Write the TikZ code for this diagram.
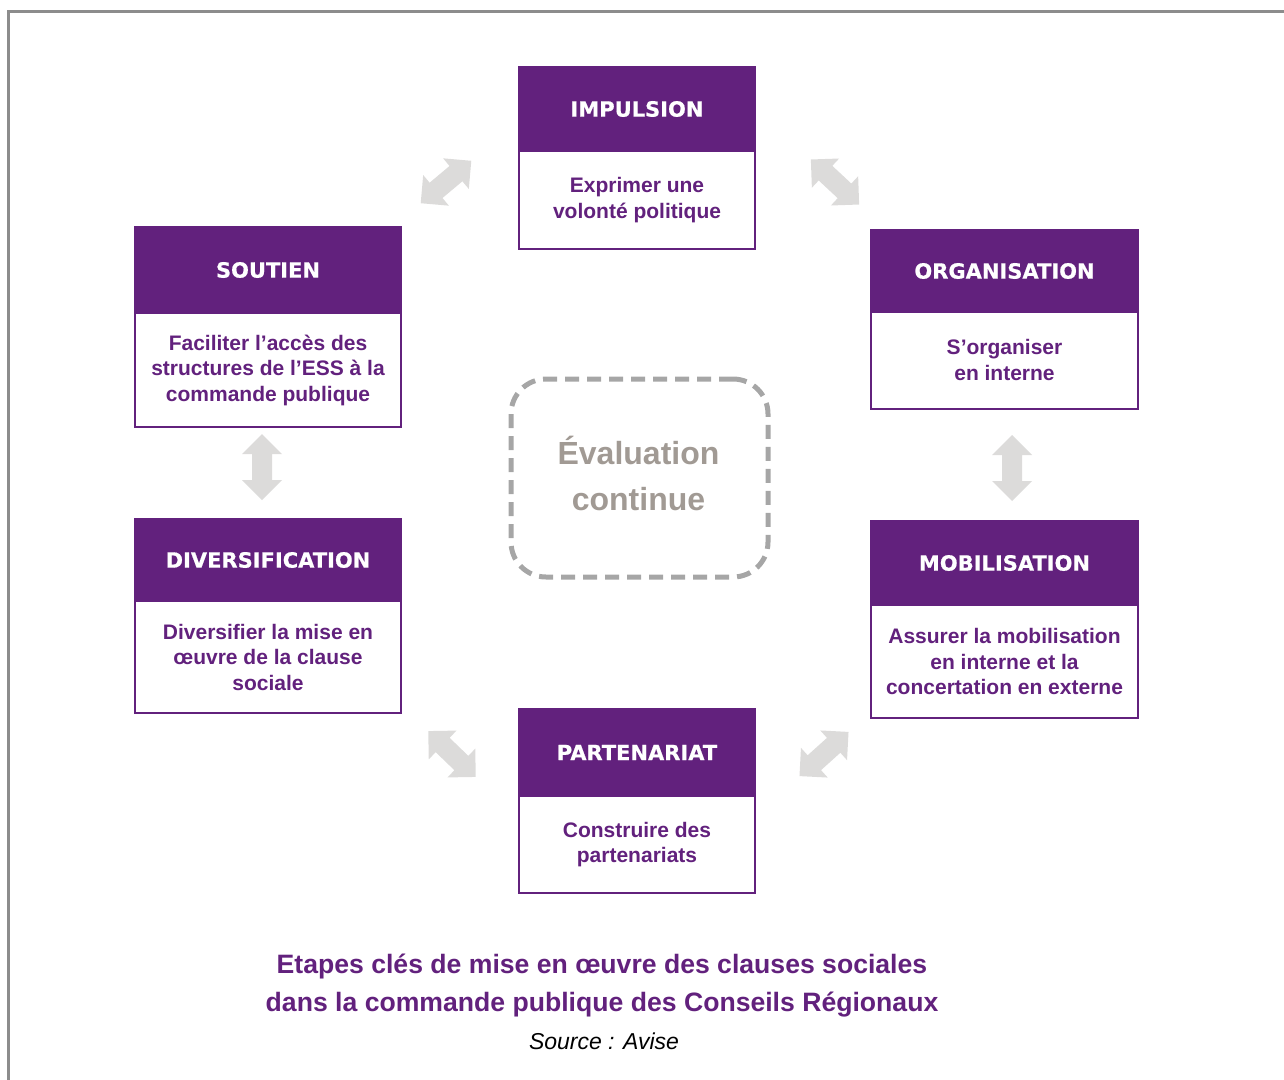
\documentclass[tikz,border=0pt]{standalone}
\usepackage{fontspec}
\setmainfont{Liberation Sans}
\newfontfamily\headfont{DejaVu Sans}[BoldFeatures={FakeBold=0.6}]
\definecolor{purp}{HTML}{62217D}
\definecolor{agrey}{HTML}{DCDBDA}
\definecolor{dgrey}{HTML}{A6A6A6}
\definecolor{egrey}{HTML}{A19A94}
\definecolor{fgrey}{HTML}{8C8C8C}
\tikzset{
  head/.style={fill=purp, draw=purp, line width=2.5pt, text=white, inner sep=0pt,
    font=\headfont\bfseries\fontsize{21}{25}\selectfont},
  body/.style={draw=purp, line width=2.5pt, fill=white, text=purp, align=center, inner sep=0pt,
    font=\bfseries\fontsize{21}{25.5}\selectfont},
  dblarrow/.pic={\fill[agrey] (-33,0) -- (-13,20) -- (-13,10) -- (13,10) -- (13,20) -- (33,0)
    -- (13,-20) -- (13,-10) -- (-13,-10) -- (-13,-20) -- cycle;}
}
\begin{document}
\begin{tikzpicture}[x=1pt,y=-1pt]
\useasboundingbox (0,0) rectangle (1284,1079);
% outer frame
\draw[fgrey, line width=3pt] (8,1080) -- (8,11) -- (1285,11);

% IMPULSION
\node[body, minimum width=236, minimum height=98] (b1) at (637,200) {\raisebox{-2pt}{}Exprimer une\\volonté politique};
\node[head, minimum width=236, minimum height=84] (h1) at (637,109) {IMPULSION};
% SOUTIEN
\node[body, minimum width=266, minimum height=114] (b2) at (268,370) {Faciliter l’accès des\\structures de l’ESS à la\\commande publique};
\node[head, minimum width=266, minimum height=86] (h2) at (268,270) {SOUTIEN};
% ORGANISATION
\node[body, minimum width=267, minimum height=98] (b3) at (1004.5,360) {S’organiser\\en interne};
\node[head, minimum width=267, minimum height=82] (h3) at (1004.5,271) {ORGANISATION};
% DIVERSIFICATION
\node[body, minimum width=266, minimum height=112] (b4) at (268,657) {Diversifier la mise en\\œuvre de la clause\\sociale};
\node[head, minimum width=266, minimum height=82] (h4) at (268,560) {DIVERSIFICATION};
% MOBILISATION
\node[body, minimum width=267, minimum height=113] (b5) at (1004.5,661.5) {Assurer la mobilisation\\en interne et la\\concertation en externe};
\node[head, minimum width=267, minimum height=84] (h5) at (1004.5,563) {MOBILISATION};
% PARTENARIAT
\node[body, minimum width=236, minimum height=97] (b6) at (637,844.5) {Construire des\\partenariats};
\node[head, minimum width=236, minimum height=87] (h6) at (637,752.5) {PARTENARIAT};

% Evaluation continue
\node[draw=dgrey, line width=5pt, dash pattern=on 14pt off 8pt, rounded corners=35pt,
  minimum width=257, minimum height=198] (ev) at (639.5,478) {};
\node[text=egrey, align=center, font=\bfseries\fontsize{32}{46}\selectfont] (evt) at (638.5,473) {Évaluation\\continue};

% double arrows
\pic[rotate=40] at (446,182) {dblarrow};
\pic[rotate=-43] at (835,182) {dblarrow};
\pic[rotate=90] at (262,467) {dblarrow};
\pic[rotate=90] at (1012,468) {dblarrow};
\pic[rotate=-44] at (452,754) {dblarrow};
\pic[rotate=42] at (824,754) {dblarrow};

% caption
\node[text=purp, align=center, font=\bfseries\fontsize{26.6}{38}\selectfont] (cap) at (602,986) {Etapes clés de mise en œuvre des clauses sociales\\dans la commande publique des Conseils Régionaux};
\node[font=\itshape\fontsize{23}{28}\selectfont] (src) at (604,1041) {Source~: Avise};
\end{tikzpicture}
\end{document}
